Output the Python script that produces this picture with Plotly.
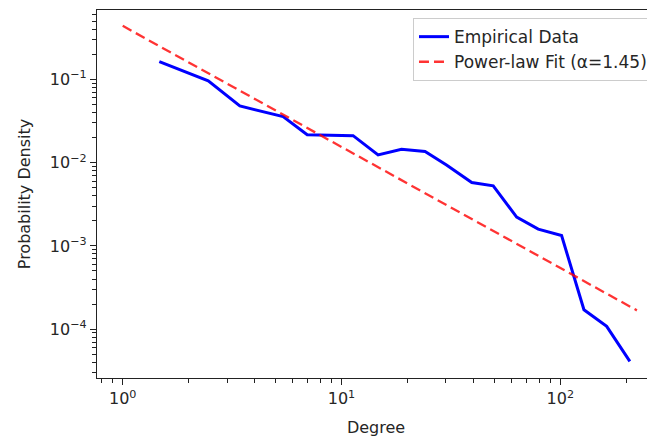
import plotly.graph_objects as go

# Empirical degree distribution
emp_degree = [1.47, 2.46, 3.43, 5.41, 6.97, 11.3, 14.7, 18.8, 24.1, 30.2,
              39.4, 49.4, 63.2, 79.3, 101.4, 128.3, 163, 208]
emp_density = [0.164, 0.096, 0.048, 0.0357, 0.0216, 0.0211, 0.0124, 0.0145,
               0.0136, 0.0094, 0.00577, 0.00527, 0.00222, 0.00159, 0.00133,
               0.000171, 0.000108, 0.000041]

# Power-law fit line endpoints (alpha = 1.45)
fit_degree = [1.0, 224.0]
fit_density = [0.44, 0.000168]

x_tick_vals = [1, 10, 100]
x_tick_text = ["10<sup>0</sup>", "10<sup>1</sup>", "10<sup>2</sup>"]
y_tick_vals = [1e-4, 1e-3, 1e-2, 1e-1]
y_tick_text = ["10<sup>\u22124</sup>", "10<sup>\u22123</sup>",
               "10<sup>\u22122</sup>", "10<sup>\u22121</sup>"]

x_minor = [m * 10 ** k for k in range(-1, 3) for m in range(2, 10)]
y_minor = [m * 10.0 ** k for k in range(-5, 0) for m in range(2, 10)]

FONT = "DejaVu Sans"
FS = 16
TXT = "#262626"

fig = go.Figure()
fig.add_trace(go.Scatter(
    x=emp_degree, y=emp_density, mode="lines", name="Empirical Data",
    line=dict(color="#0000ff", width=3)))
fig.add_trace(go.Scatter(
    x=fit_degree, y=fit_density, mode="lines", name="Power-law Fit (\u03b1=1.45)",
    line=dict(color="rgba(255,0,0,0.8)", width=2.3, dash="10px,5px")))

axis_common = dict(
    type="log", showgrid=False, zeroline=False, showline=True,
    linecolor="#222222", linewidth=1.3, ticks="outside", ticklen=6,
    tickwidth=1.1, tickcolor="#222222",
    tickfont=dict(family=FONT, size=FS, color=TXT),
)

# The page body has an 8px margin, so the figure is shifted by 8px;
# sizes/margins compensate for it.
fig.update_layout(
    width=647, height=430,
    margin=dict(l=89, r=0, t=2, b=60, autoexpand=False),
    paper_bgcolor="white", plot_bgcolor="white",
    font=dict(family=FONT, size=FS, color=TXT),
    showlegend=True,
    legend=dict(
        x=0.9964, y=0.978, xanchor="right", yanchor="top",
        bgcolor="rgba(255,255,255,0.8)", bordercolor="#cccccc", borderwidth=1,
        font=dict(family=FONT, size=17, color=TXT),
    ),
    xaxis=dict(
        **axis_common,
        range=[-0.1175, 2.433],
        tickvals=x_tick_vals, ticktext=x_tick_text,
        minor=dict(tickvals=x_minor, ticks="outside", ticklen=3.5,
                   tickcolor="#222222", tickwidth=0.9),
        mirror=True,
        title=dict(text="Degree", font=dict(family=FONT, size=FS, color=TXT),
                   standoff=14),
        automargin=False,
    ),
    yaxis=dict(
        **axis_common,
        range=[-4.587, -0.166],
        tickvals=y_tick_vals, ticktext=y_tick_text,
        minor=dict(tickvals=y_minor, ticks="outside", ticklen=3.5,
                   tickcolor="#222222", tickwidth=0.9),
        mirror=False,
        title=dict(text="Probability Density",
                   font=dict(family=FONT, size=FS, color=TXT), standoff=15),
        automargin=False,
    ),
)

fig.write_html("out.html")
